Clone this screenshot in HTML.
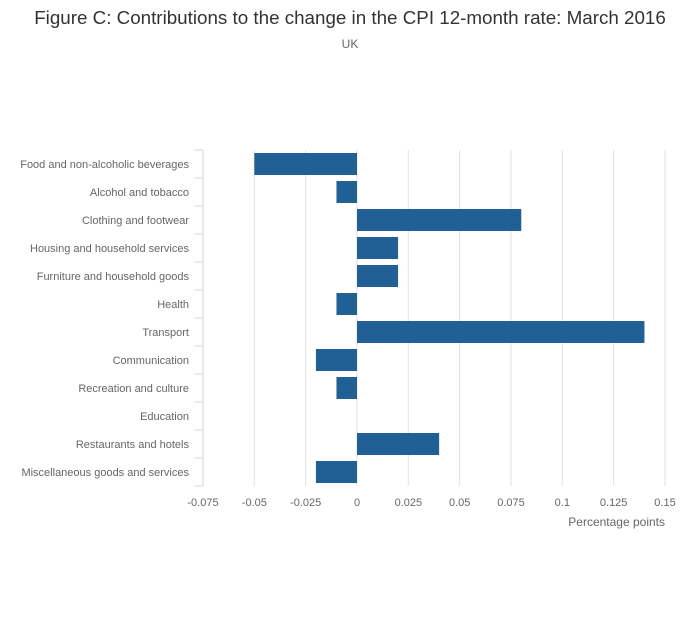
<!DOCTYPE html>
<html><head><meta charset="utf-8"><style>
body{margin:0;background:#fff;width:700px;height:635px;overflow:hidden;font-family:"Liberation Sans",sans-serif}
</style></head><body>
<svg id="chart" width="700" height="635" xmlns="http://www.w3.org/2000/svg">
<text x="350" y="24" text-anchor="middle" font-size="18.8" fill="#333">Figure C: Contributions to the change in the CPI 12-month rate: March 2016</text>
<text x="350" y="48" text-anchor="middle" font-size="12" fill="#666">UK</text>
<g id="grid"></g><g id="bars"></g><g id="yaxis"></g><g id="xaxis"></g>
<text x="665" y="526" text-anchor="end" font-size="12" fill="#666">Percentage points</text>
</svg>
<script>
const categories=["Food and non-alcoholic beverages","Alcohol and tobacco","Clothing and footwear","Housing and household services","Furniture and household goods","Health","Transport","Communication","Recreation and culture","Education","Restaurants and hotels","Miscellaneous goods and services"];
const values=[-0.05,-0.01,0.08,0.02,0.02,-0.01,0.14,-0.02,-0.01,0,0.04,-0.02];
const xTicks=[-0.075,-0.05,-0.025,0,0.025,0.05,0.075,0.1,0.125,0.15];
const xTickLabels=["-0.075","-0.05","-0.025","0","0.025","0.05","0.075","0.1","0.125","0.15"];
const NS="http://www.w3.org/2000/svg";
const plotLeft=203,plotRight=665,plotTop=150,rowH=28;
const plotBottom=plotTop+rowH*categories.length;
function xs(v){return plotLeft+(v-(-0.075))/(0.225)*(plotRight-plotLeft);}
function ys(i){return plotTop+i*rowH;}
function mk(t,a,p){const e=document.createElementNS(NS,t);for(const k in a)e.setAttribute(k,a[k]);p.appendChild(e);return e;}
const grid=document.getElementById('grid'),bars=document.getElementById('bars'),ya=document.getElementById('yaxis'),xa=document.getElementById('xaxis');
xTicks.forEach((t,i)=>{
 const g=mk('line',{x1:xs(t),x2:xs(t),y1:plotTop,y2:plotBottom,stroke:'#e2e2e2','stroke-width':1},grid);
 
 
 const l=mk('text',{x:xs(t),y:plotBottom+20,'text-anchor':'middle','font-size':11,fill:'#666'},xa);
 l.textContent=xTickLabels[i];
 
 
});
const ax=mk('line',{x1:plotLeft,x2:plotLeft,y1:plotTop,y2:plotBottom,stroke:'#ccd6eb','stroke-width':1},ya);


for(let i=0;i<=categories.length;i++){
 const tk=mk('line',{x1:plotLeft-8,x2:plotLeft,y1:ys(i),y2:ys(i),stroke:'#ccd6eb','stroke-width':1},ya);
 
 
}
categories.forEach((c,i)=>{
 const l=mk('text',{x:189,y:ys(i)+rowH/2+4,'text-anchor':'end','font-size':11,fill:'#666'},ya);
 l.textContent=c;
 
 
 const v=values[i];
 if(v!==0){
  const b=mk('rect',{x:Math.min(xs(0),xs(v)),y:ys(i)+3,width:Math.abs(xs(v)-xs(0)),height:22,fill:'#206095'},bars);
  
  
 }
});
</script>
</body></html>
